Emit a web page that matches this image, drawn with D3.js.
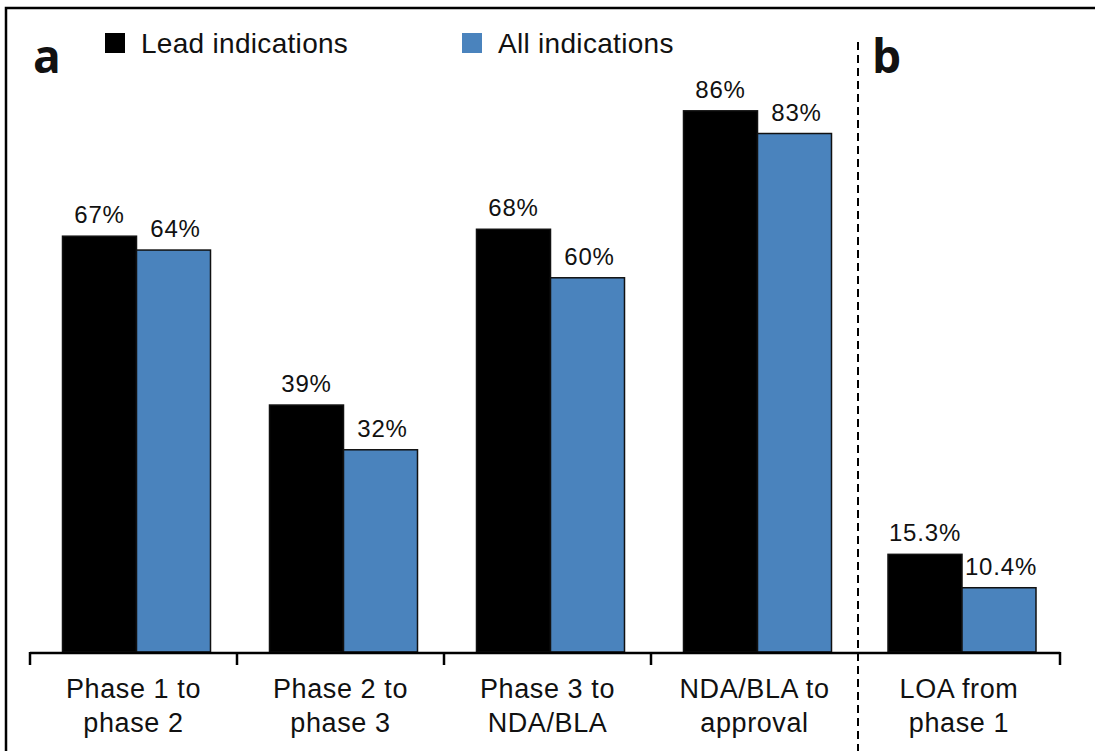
<!DOCTYPE html>
<html>
<head>
<meta charset="utf-8">
<script src="https://cdn.jsdelivr.net/npm/d3@7"></script>
<style>
  body { margin: 0; background: #fff; }
  text { font-family: "Liberation Sans", Arial, sans-serif; fill: #111; }
  .panel { font-family: "Open Sans", "DejaVu Sans", sans-serif; font-weight: bold; font-size: 46px; }
</style>
</head>
<body>
<svg width="1095" height="751"></svg>
<script>
var categories = [["Phase 1 to", "phase 2"], ["Phase 2 to", "phase 3"], ["Phase 3 to", "NDA/BLA"], ["NDA/BLA to", "approval"]];
// bar heights as drawn in the picture (%), labels as printed
var leadValues = [66.0, 39.2, 67.1, 85.9];
var allValues = [63.8, 32.1, 59.4, 82.3];
var leadLabels = ["67%", "39%", "68%", "86%"];
var allLabels = ["64%", "32%", "60%", "83%"];

var loaCategory = ["LOA from", "phase 1"];
var loaLead = 15.5;
var loaAll = 10.2;
var loaLabels = ["15.3%", "10.4%"];

var seriesNames = ["Lead indications", "All indications"];
var colors = ["#000000", "#4a83bd"];

var baseline = 652;

var svg = d3.select("svg");

// frame
svg.append("path")
    .attr("d", "M6,751 V8 H1095")
    .attr("fill", "none")
    .attr("stroke", "#000")
    .attr("stroke-width", 2.5);

var yScale = d3.scaleLinear()
                .domain([0, 100])
                .range([baseline, baseline - 630]);

var xA = d3.scaleBand()
                .domain(d3.range(categories.length))
                .range([30, 858]);
var xB = d3.scaleBand()
                .domain([0])
                .range([858, 1060]);

var bw = 74;

function drawGroup(x0, w, lead, all, leadTxt, allTxt, label){
    var cx = x0 + w / 2 + 3;
    var vals = [lead, all];
    var txts = [leadTxt, allTxt];
    vals.forEach(function(v, i){
        var bx = cx - bw + i * bw;
        svg.append("rect")
            .attr("x", bx)
            .attr("y", yScale(v))
            .attr("width", bw)
            .attr("height", baseline - yScale(v))
            .attr("fill", colors[i])
            .attr("stroke", "#111")
            .attr("stroke-width", 1.5);
        svg.append("text")
            .attr("x", bx + bw / 2 + (i ? 2 : 0))
            .attr("y", yScale(v) - 13)
            .attr("text-anchor", "middle")
            .attr("font-size", "24px")
            .attr("letter-spacing", "0.8px")
            .text(txts[i]);
    });
    [698, 732].forEach(function(y, k){
        svg.append("text")
            .attr("x", x0 + w / 2)
            .attr("y", y)
            .attr("text-anchor", "middle")
            .attr("font-size", "27px")
            .attr("letter-spacing", "0.6px")
            .text(label[k]);
    });
}

categories.forEach(function(c, i){
    drawGroup(xA(i), xA.bandwidth(), leadValues[i], allValues[i], leadLabels[i], allLabels[i], c);
});
drawGroup(xB(0), xB.bandwidth(), loaLead, loaAll, loaLabels[0], loaLabels[1], loaCategory);

// axis line and ticks (no tick at the divider)
var tickXs = d3.range(categories.length).map(function(i){ return xA(i); });
tickXs.push(xB.range()[1]);
svg.append("line")
    .attr("x1", 30).attr("x2", 1060)
    .attr("y1", baseline + 1).attr("y2", baseline + 1)
    .attr("stroke", "#000").attr("stroke-width", 2.5);
svg.selectAll(".tick")
    .data(tickXs)
    .enter()
    .append("line")
    .attr("x1", d => d).attr("x2", d => d)
    .attr("y1", baseline).attr("y2", baseline + 13)
    .attr("stroke", "#000").attr("stroke-width", 2.5);

// divider
svg.append("line")
    .attr("x1", 858).attr("x2", 858)
    .attr("y1", 42).attr("y2", 751)
    .attr("stroke", "#000")
    .attr("stroke-width", 2)
    .attr("stroke-dasharray", "8,5");

// panel letters
svg.append("text").classed("panel", true).attr("x", 33).attr("y", 73).text("a");
svg.append("text").classed("panel", true).attr("x", 872).attr("y", 73).text("b");

// legend
var legendX = [105, 462];
seriesNames.forEach(function(name, i){
    svg.append("rect")
        .attr("x", legendX[i]).attr("y", 33)
        .attr("width", 20).attr("height", 20)
        .attr("fill", colors[i]);
    svg.append("text")
        .attr("x", legendX[i] + 36)
        .attr("y", 53)
        .attr("font-size", "28px")
        .attr("letter-spacing", "0.3px")
        .text(name);
});
</script>
</body>
</html>
